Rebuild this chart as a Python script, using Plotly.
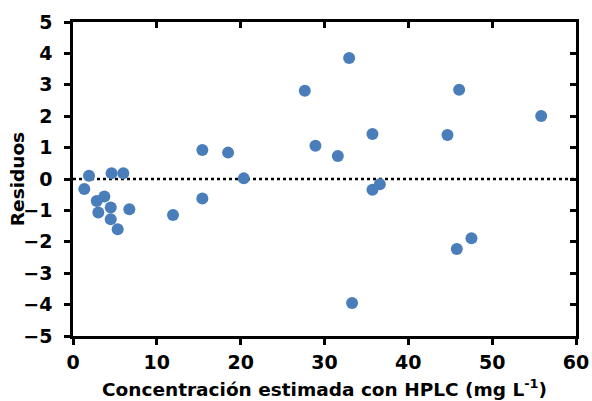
import plotly.graph_objects as go

# Concentration estimated by HPLC (mg L-1) and residuals
concentracion = [1.35, 1.91, 2.83, 3.02, 3.74, 4.5, 4.5, 4.6, 5.33, 6.0, 6.72,
                 11.93, 15.43, 15.43, 18.5, 20.37,
                 27.65, 28.92, 31.59, 32.94, 33.29, 35.72, 35.72, 36.6,
                 44.67, 45.78, 46.06, 47.53, 55.85]
residuos = [-0.32, 0.1, -0.70, -1.07, -0.56, -0.91, -1.28, 0.18, -1.60, 0.18, -0.96,
            -1.15, 0.92, -0.62, 0.84, 0.02,
            2.81, 1.06, 0.73, 3.85, -3.95, 1.43, -0.34, -0.17,
            1.40, -2.23, 2.84, -1.89, 2.01]

x_ticks = [0, 10, 20, 30, 40, 50, 60]
y_ticks = [-5, -4, -3, -2, -1, 0, 1, 2, 3, 4, 5]

x_title = "Concentración estimada con HPLC (mg L<sup>-1</sup>)"
y_title = "Residuos"

FONT = "Verdana, DejaVu Sans, sans-serif"
BLUE = "#4a7ebb"
LW = 2.5
TICK_SIZE = 19
TITLE_SIZE = 18.5

fig = go.Figure()

fig.add_trace(go.Scatter(
    x=concentracion, y=residuos, mode="markers",
    marker=dict(size=12, color=BLUE, line=dict(width=0)),
    showlegend=False, hoverinfo="skip",
))

# invisible trace so the mirrored frame axes are drawn
fig.add_trace(go.Scatter(x=[None], y=[None], xaxis="x2", yaxis="y2",
                         showlegend=False, hoverinfo="skip"))

# zero reference line
fig.add_shape(type="line", xref="x", yref="y", x0=0, x1=60, y0=0, y1=0,
              line=dict(color="black", width=2.5, dash="dot"), layer="below")

axis_common = dict(showgrid=False, zeroline=False, showline=True,
                   linecolor="black", linewidth=LW, tickcolor="black",
                   tickwidth=LW, ticklen=6, automargin=False)

title_font = dict(size=TITLE_SIZE, family=FONT, weight="bold", color="black")

# axis titles placed as annotations for exact positioning
fig.add_annotation(text=x_title, xref="paper", yref="paper", x=0.5, y=-0.166,
                   xanchor="center", yanchor="middle", showarrow=False,
                   font=title_font)
fig.add_annotation(text=y_title, xref="paper", yref="paper", x=-0.111, y=0.5,
                   xanchor="center", yanchor="middle", textangle=-90,
                   showarrow=False, font=title_font)

fig.update_layout(
    width=592, height=401,
    margin=dict(l=73, r=16, t=22, b=65),
    paper_bgcolor="white", plot_bgcolor="white",
    font=dict(family=FONT, color="black"),
    xaxis=dict(range=[0, 60], tickvals=x_ticks, ticks="outside",
               tickfont=dict(size=TICK_SIZE, family=FONT, weight="bold"),
               ticklabelstandoff=1, **axis_common),
    yaxis=dict(range=[-5, 5], tickvals=y_ticks, ticks="outside",
               tickfont=dict(size=TICK_SIZE, family=FONT, weight="bold"),
               ticklabelstandoff=8, **axis_common),
    xaxis2=dict(range=[0, 60], tickvals=x_ticks, ticks="inside", side="top",
                overlaying="x", anchor="y", showticklabels=False, **axis_common),
    yaxis2=dict(range=[-5, 5], tickvals=y_ticks, ticks="inside", side="right",
                overlaying="y", anchor="x", showticklabels=False, **axis_common),
)

fig.write_html("out.html")
